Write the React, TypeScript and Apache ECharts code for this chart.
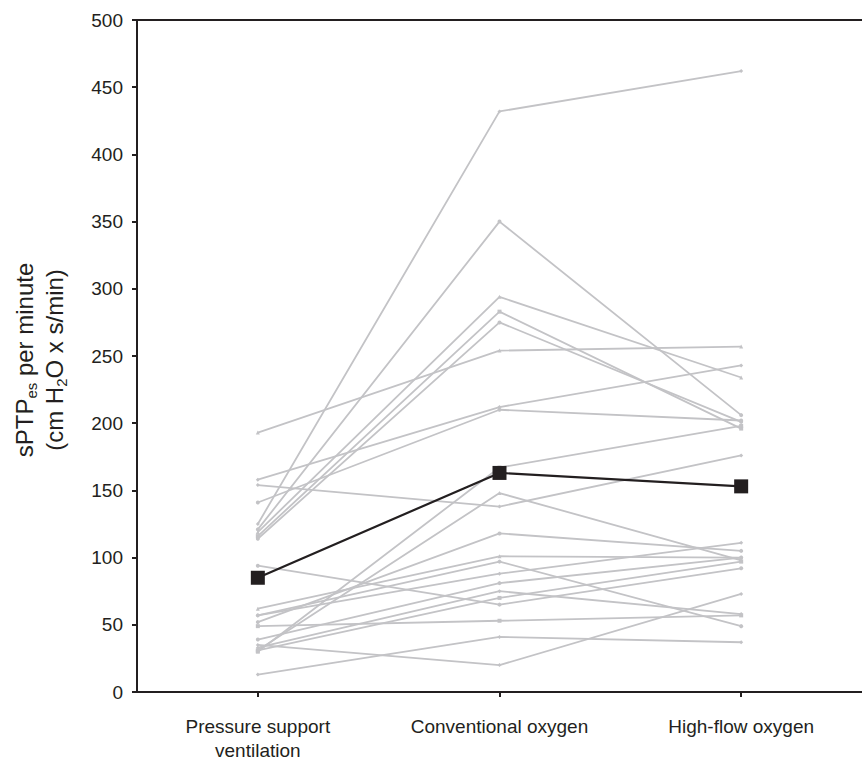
import React, { useEffect, useRef } from "react";
import * as echarts from "echarts";

const categories = ["Pressure support\nventilation", "Conventional oxygen", "High-flow oxygen"];
const yTicks = { min: 0, max: 500, interval: 50 };

// individual patients (same index = same patient)
const psvValues = [125, 121, 119, 116, 114, 158, 141, 193, 154, 94, 13, 35, 49, 57, 62, 52, 31, 30, 39, 33, 31, 57];
const conventionalValues = [432, 350, 294, 283, 275, 212, 210, 254, 138, 65, 41, 20, 53, 88, 101, 118, 148, 167, 81, 75, 70, 97];
const highFlowValues = [462, 206, 234, 196, 201, 243, 202, 257, 176, 92, 37, 73, 57, 111, 100, 105, 98, 198, 100, 58, 97, 49];
const patientSymbols = [
  "diamond", "circle", "triangle", "rect", "circle", "diamond", "circle", "triangle", "diamond", "circle", "diamond",
  "diamond", "rect", "diamond", "triangle", "circle", "triangle", "rect", "circle", "diamond", "rect", "circle",
];

// mean line
const meanValues = [85, 163, 153];

const FONT = "'Liberation Sans', Arial, Helvetica, sans-serif";
const INK = "#231f20";
const GREY = "#c3c3c6";

export default function App() {
  const ref = useRef<HTMLDivElement>(null);

  useEffect(() => {
    document.body.style.margin = "0";
    const chart = echarts.init(ref.current!, null, { renderer: "svg" });

    const patientSeries = psvValues.map((_, i) => ({
      type: "line",
      data: [psvValues[i], conventionalValues[i], highFlowValues[i]],
      symbol: patientSymbols[i],
      symbolSize: 4,
      showSymbol: true,
      itemStyle: { color: GREY },
      lineStyle: { color: GREY, width: 1.8 },
      z: 2,
      silent: true,
    }));

    chart.setOption({
      animation: false,
      backgroundColor: "#ffffff",
      grid: { left: 137, top: 20, width: 737, height: 677, containLabel: false },
      xAxis: [
        {
          type: "category",
          data: categories,
          boundaryGap: true,
          axisLine: { show: true, lineStyle: { color: INK, width: 2 } },
          axisTick: { show: true, alignWithLabel: true, length: 5, lineStyle: { color: INK, width: 2 } },
          axisLabel: { color: INK, fontFamily: FONT, fontSize: 19, margin: 22, lineHeight: 24 },
        },
        {
          type: "category",
          data: categories,
          position: "top",
          axisLine: { show: true, lineStyle: { color: INK, width: 2 } },
          axisTick: { show: false },
          axisLabel: { show: false },
        },
      ],
      yAxis: {
        type: "value",
        min: yTicks.min,
        max: yTicks.max,
        interval: yTicks.interval,
        splitLine: { show: false },
        axisLine: { show: true, lineStyle: { color: INK, width: 2 } },
        axisTick: { show: true, length: 5, lineStyle: { color: INK, width: 2 } },
        axisLabel: { color: INK, fontFamily: FONT, fontSize: 19, margin: 14 },
      },
      graphic: [
        {
          type: "text",
          x: 39,
          y: 360,
          rotation: Math.PI / 2,
          style: {
            text: "{a|sPTP}{s|es}{a| per minute}\n{a|(cm H}{s|2}{a|O x s/min)}",
            align: "center",
            verticalAlign: "middle",
            fill: INK,
            rich: {
              a: { fontSize: 24, fontFamily: FONT, fill: INK, lineHeight: 30 },
              s: { fontSize: 15, fontFamily: FONT, fill: INK, lineHeight: 30, verticalAlign: "bottom" },
            },
          },
        },
      ],
      series: [
        ...patientSeries,
        {
          type: "line",
          data: meanValues,
          symbol: "rect",
          symbolSize: 14,
          itemStyle: { color: INK },
          lineStyle: { color: INK, width: 2.2 },
          z: 5,
          silent: true,
        },
      ],
    });

    return () => chart.dispose();
  }, []);

  return <div ref={ref} style={{ width: 862, height: 762 }} />;
}
